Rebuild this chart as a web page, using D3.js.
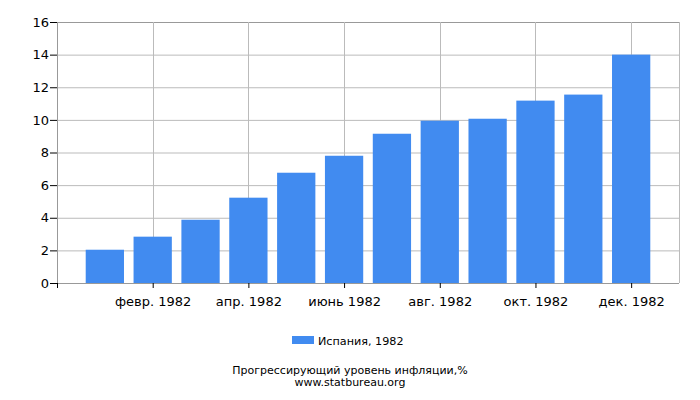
<!DOCTYPE html>
<html>
<head>
<meta charset="utf-8">
<script src="https://cdn.jsdelivr.net/npm/d3@7"></script>
<style>
  body { margin: 0; background: #fff; }
  text { font-family: "DejaVu Sans", sans-serif; }
</style>
</head>
<body>
<div id="chart"></div>
<script>
// data
const months = [1, 2, 3, 4, 5, 6, 7, 8, 9, 10, 11, 12];
const values = [2.04, 2.84, 3.88, 5.23, 6.76, 7.8, 9.15, 9.95, 10.07, 11.18, 11.55, 14.0];
const tickMonths = [2, 4, 6, 8, 10, 12];
const tickLabels = ["февр. 1982", "апр. 1982", "июнь 1982", "авг. 1982", "окт. 1982", "дек. 1982"];
const yTicks = [0, 2, 4, 6, 8, 10, 12, 14, 16];
const seriesName = "Испания, 1982";
const title = "Прогрессирующий уровень инфляции,%";
const source = "www.statbureau.org";

// set the dimensions and margins of the graph
const margin = { top: 22, right: 21, bottom: 117, left: 57 },
    width = 700 - margin.left - margin.right,
    height = 400 - margin.top - margin.bottom;

const svg = d3.select("#chart")
    .append("svg")
    .attr("width", 700)
    .attr("height", 400);

const g = svg.append("g")
    .attr("transform", `translate(${margin.left}, ${margin.top})`);

const x = d3.scaleLinear().domain([0, 13]).range([0, width]);
const y = d3.scaleLinear().domain([0, 16]).range([height, 0]);

// grid
g.selectAll(".hgrid")
    .data(yTicks)
    .join("line")
    .attr("x1", 0).attr("x2", width)
    .attr("y1", d => y(d) + 0.5).attr("y2", d => y(d) + 0.5)
    .attr("stroke", d => d == 16 ? "#999" : "#bbb");
g.selectAll(".vgrid")
    .data(tickMonths)
    .join("line")
    .attr("x1", d => Math.round(x(d)) + 0.5).attr("x2", d => Math.round(x(d)) + 0.5)
    .attr("y1", 0).attr("y2", height)
    .attr("stroke", "#bbb");
g.append("line")
    .attr("x1", width + 0.5).attr("x2", width + 0.5)
    .attr("y1", 0).attr("y2", height)
    .attr("stroke", "#bbb");
g.append("line")
    .attr("x1", 0.5).attr("x2", 0.5)
    .attr("y1", 0).attr("y2", height)
    .attr("stroke", "#999");

// bars
g.selectAll(".bar")
    .data(months)
    .join("rect")
    .attr("x", d => x(d - 0.4))
    .attr("width", x(0.8) - x(0))
    .attr("y", (d, i) => y(values[i]))
    .attr("height", (d, i) => height - y(values[i]))
    .attr("fill", "#418bf0");

// y axis
const yAxis = g.append("g")
    .call(d3.axisLeft(y).tickValues(yTicks).tickSize(7).tickPadding(1));
yAxis.select(".domain").remove();
yAxis.selectAll("text").attr("font-size", 13).attr("fill", "#000");

// x axis
const xAxis = g.append("g")
    .attr("transform", `translate(0, ${height})`)
    .call(d3.axisBottom(x).tickValues([0].concat(tickMonths))
        .tickFormat(d => d == 0 ? "" : tickLabels[tickMonths.indexOf(d)])
        .tickSize(5).tickPadding(9));
xAxis.select(".domain").attr("stroke", "#999").attr("d", `M0,0.5H${width}`);
xAxis.selectAll("text").attr("font-size", 13).attr("fill", "#000");

// legend
svg.append("rect")
    .attr("x", 292).attr("y", 336)
    .attr("width", 22).attr("height", 8)
    .attr("fill", "#418bf0");
svg.append("text")
    .attr("x", 318).attr("y", 344.5)
    .attr("font-size", 11.2)
    .text(seriesName);

// footer
svg.append("text")
    .attr("x", 350).attr("y", 374)
    .attr("text-anchor", "middle")
    .attr("font-size", 11)
    .text(title);
svg.append("text")
    .attr("x", 350).attr("y", 385.5)
    .attr("text-anchor", "middle")
    .attr("font-size", 11)
    .text(source);
</script>
</body>
</html>
